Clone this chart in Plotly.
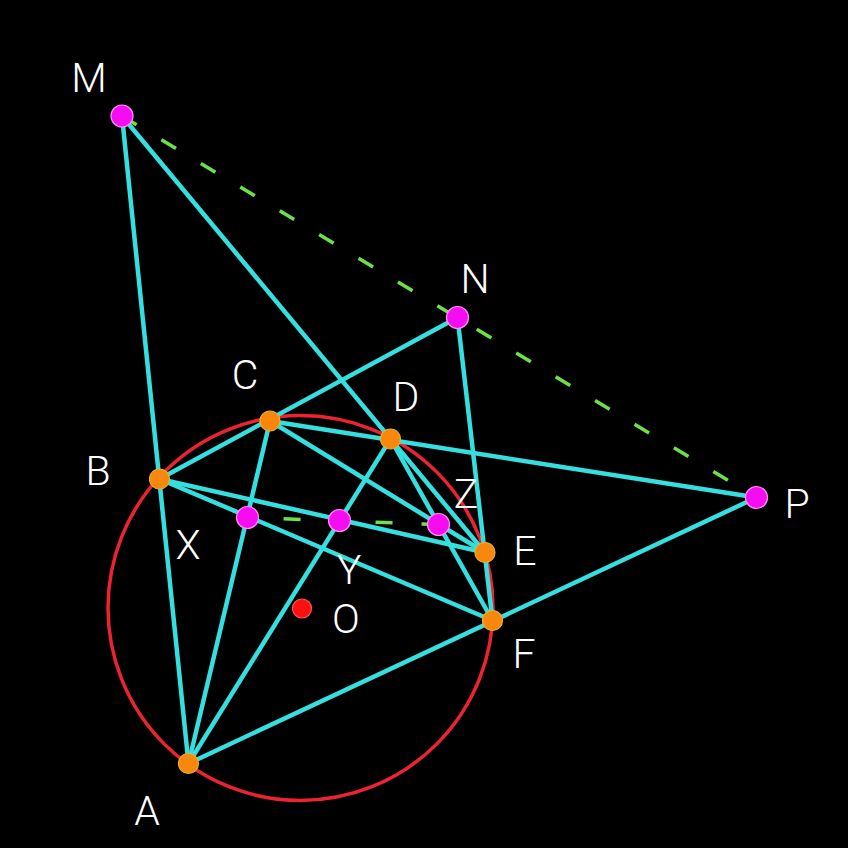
import plotly.graph_objects as go

# Point names and pixel-space coordinates (y grows downward)
names = ["M", "N", "P", "A", "B", "C", "D", "E", "F", "X", "Y", "Z", "O"]
xs = [122, 457.5, 756.5, 188.5, 159.5, 270, 390.5, 485, 492.5, 247.5, 339.5, 438.5, 302]
ys = [116, 317.5, 497.5, 763.5, 479, 421, 439, 552.5, 620.5, 517.5, 520.5, 524.5, 608.5]

# Label positions
label_x = [89, 475, 797, 147, 98, 245, 406, 525, 524, 188, 349, 466, 346]
label_y = [82, 283, 508, 815, 475, 379, 401, 555, 658, 549, 574, 498, 623]

# Solid segments (endpoint names)
seg_from = ["M", "M", "N", "N", "P", "P", "B", "B", "C", "C", "D", "D"]
seg_to = ["A", "E", "B", "F", "C", "A", "E", "F", "A", "E", "A", "F"]

# Dashed collinear lines
dash_from = ["M", "Z"]
dash_to = ["P", "X"]

orange_pts = ["A", "B", "C", "D", "E", "F"]
magenta_pts = ["M", "N", "P", "X", "Y", "Z"]
center_pts = ["O"]

circle_cx, circle_cy, circle_r = 300.5, 608, 192.5

pos = {n: (x, y) for n, x, y in zip(names, xs, ys)}

fig = go.Figure()

# cyan segments
for a, b in zip(seg_from, seg_to):
    fig.add_trace(go.Scatter(
        x=[pos[a][0], pos[b][0]], y=[pos[a][1], pos[b][1]],
        mode="lines", line=dict(color="#35dfe0", width=4.5),
        hoverinfo="skip", showlegend=False))

# dashed green
for a, b in zip(dash_from, dash_to):
    fig.add_trace(go.Scatter(
        x=[pos[a][0], pos[b][0]], y=[pos[a][1], pos[b][1]],
        mode="lines", line=dict(color="#6ee04a", width=3.5, dash="17px,29px"),
        hoverinfo="skip", showlegend=False))

def add_points(lst, color, edge, size):
    fig.add_trace(go.Scatter(
        x=[pos[n][0] for n in lst], y=[pos[n][1] for n in lst],
        mode="markers",
        marker=dict(color=color, size=size, line=dict(color=edge, width=1.2)),
        hoverinfo="skip", showlegend=False))

add_points(orange_pts, "#f7870d", "#e8b030", 20)
add_points(magenta_pts, "#f50cf0", "#ff8cf5", 22)
add_points(center_pts, "#ff1010", "#ff5050", 19)

# labels
fig.add_trace(go.Scatter(
    x=label_x, y=label_y, mode="text", text=names,
    textposition="middle center",
    textfont=dict(family="Roboto", size=41, color="white", weight=300),
    hoverinfo="skip", showlegend=False))

fig.add_shape(type="circle", xref="x", yref="y",
              x0=circle_cx - circle_r, x1=circle_cx + circle_r,
              y0=circle_cy - circle_r, y1=circle_cy + circle_r,
              line=dict(color="#ec2330", width=3.5), layer="below")

fig.update_layout(
    width=848, height=848,
    margin=dict(l=0, r=0, t=0, b=0),
    paper_bgcolor="black", plot_bgcolor="black",
    xaxis=dict(range=[0, 848], visible=False, showgrid=False, zeroline=False),
    yaxis=dict(range=[848, 0], visible=False, showgrid=False, zeroline=False),
)

fig.write_html(
    "out.html",
    config={"displayModeBar": False},
    post_script="document.body.style.margin='0';document.body.style.padding='0';"
                "document.body.style.background='black';document.body.style.overflow='hidden';",
)
